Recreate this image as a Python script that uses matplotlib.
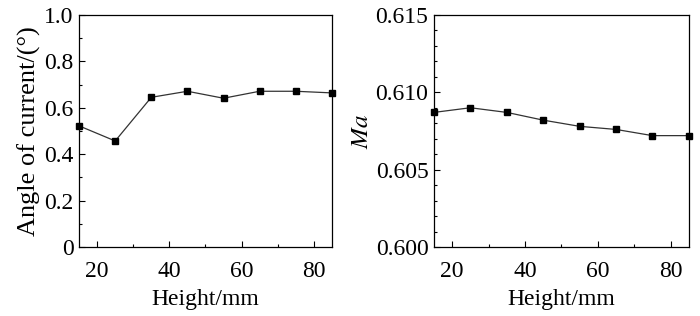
import matplotlib
matplotlib.use('Agg')
import matplotlib.pyplot as plt
from matplotlib.ticker import MultipleLocator

plt.rcParams['font.family'] = ['Liberation Serif', 'DejaVu Serif']
plt.rcParams['mathtext.fontset'] = 'stix'

height = [15, 25, 35, 45, 55, 65, 75, 85]
angle = [0.522, 0.457, 0.645, 0.671, 0.641, 0.671, 0.671, 0.664]
ma = [0.6087, 0.6090, 0.6087, 0.6082, 0.6078, 0.6076, 0.6072, 0.6072]

fig = plt.figure(figsize=(7, 3.16), dpi=100)
ax1 = fig.add_axes([0.113, 0.218, 0.361, 0.735])
ax2 = fig.add_axes([0.620, 0.218, 0.364, 0.735])

for ax, y in ((ax1, angle), (ax2, ma)):
    ax.plot(height, y, color='#333333', lw=0.9, marker='s', ms=4.5,
            mfc='black', mec='black', clip_on=False, zorder=3)
    ax.set_xlim(15, 85)
    ax.xaxis.set_major_locator(MultipleLocator(20))
    ax.xaxis.set_minor_locator(MultipleLocator(10))
    ax.tick_params(which='both', direction='in', top=False, right=False,
                   labelsize=17, pad=4)
    ax.tick_params(axis='x', which='major', pad=10)
    ax.tick_params(which='major', length=4, width=0.8)
    ax.tick_params(which='minor', length=2.5, width=0.8)
    ax.set_xlabel('Height/mm', fontsize=17, labelpad=5)
    for s in ax.spines.values():
        s.set_linewidth(0.9)

ax1.set_ylim(0, 1.0)
ax1.yaxis.set_major_locator(MultipleLocator(0.2))
ax1.yaxis.set_minor_locator(MultipleLocator(0.1))
ax1.set_yticks([0, 0.2, 0.4, 0.6, 0.8, 1.0], ['0', '0.2', '0.4', '0.6', '0.8', '1.0'])
ax1.set_ylabel('Angle of current/(°)', fontsize=19, labelpad=2)

ax2.set_ylim(0.600, 0.615)
ax2.yaxis.set_major_locator(MultipleLocator(0.005))
ax2.yaxis.set_minor_locator(MultipleLocator(0.001))
ax2.yaxis.set_major_formatter(plt.FormatStrFormatter('%.3f'))
ax2.set_ylabel('$Ma$', fontsize=18, labelpad=2)

fig.savefig('out.png', dpi=100)
